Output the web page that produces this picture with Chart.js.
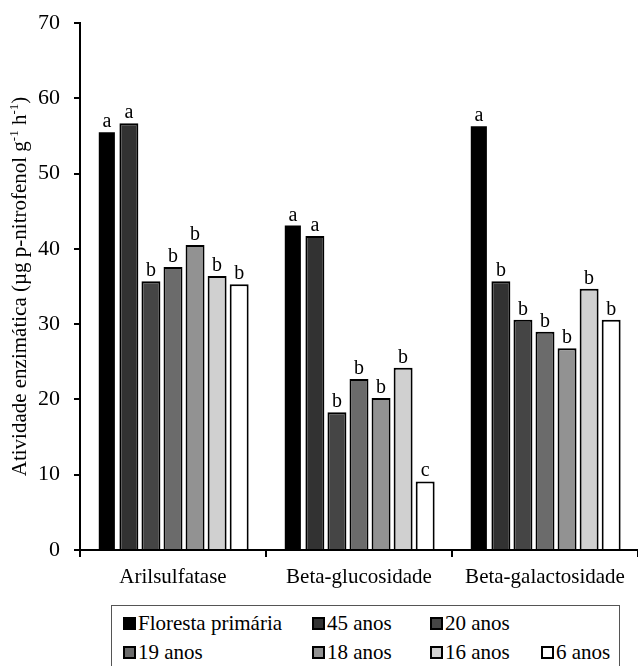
<!DOCTYPE html>
<html>
<head>
<meta charset="utf-8">
<script src="https://cdn.jsdelivr.net/npm/chart.js@4"></script>
<style>
  body { margin: 0; background: #fff; }
  #wrap { position: relative; width: 638px; height: 666px; overflow: hidden; }
  #legend {
    position: absolute; left: 111px; top: 605px; width: 496px; height: 80px;
    border: 1px solid #555; padding: 3px 0 0 11px;
    display: grid; grid-template-columns: 189px 118px 111px auto; grid-auto-rows: 29px;
    font: 21px "Liberation Serif", "Times New Roman", serif; color: #000;
  }
  .item { display: flex; align-items: center; white-space: nowrap; }
  .sw { width: 9px; height: 9px; border: 2px solid #000; margin-right: 2px; }
</style>
</head>
<body>
<div id="wrap">
  <canvas id="chart" width="638" height="600"></canvas>
  <div id="legend"></div>
</div>
<script>
// Categories and series
const enzymes = ["Arilsulfatase", "Beta-glucosidade", "Beta-galactosidade"];
const areas = ["Floresta primária", "45 anos", "20 anos", "19 anos", "18 anos", "16 anos", "6 anos"];
const fills = ["#000000", "#323232", "#454545", "#6b6b6b", "#929292", "#d0d0d0", "#ffffff"];

const floresta = [55.5, 43.1, 56.3];
const anos45 = [56.7, 41.7, 35.7];
const anos20 = [35.7, 18.3, 30.6];
const anos19 = [37.6, 22.7, 29.0];
const anos18 = [40.5, 20.2, 26.8];
const anos16 = [36.4, 24.2, 34.7];
const anos6 = [35.3, 9.1, 30.6];

// letras de significancia
const letters = [
  ["a", "a", "a"],
  ["a", "a", "b"],
  ["b", "b", "b"],
  ["b", "b", "b"],
  ["b", "b", "b"],
  ["b", "b", "b"],
  ["b", "c", "b"]
];

const yTicks = [0, 10, 20, 30, 40, 50, 60, 70];

const seriesValues = [floresta, anos45, anos20, anos19, anos18, anos16, anos6];
const serif = '"Liberation Serif", "Times New Roman", serif';

const datasets = areas.map((name, i) => ({
  label: name,
  data: seriesValues[i],
  backgroundColor: fills[i],
  borderColor: "#000",
  borderWidth: i === 0 ? 0 : 2,
  borderSkipped: "bottom",
  barPercentage: i === 0 ? 0.73 : 0.86,
  categoryPercentage: 0.83
}));

// Letters above bars
const letterPlugin = {
  id: "letters",
  afterDatasetsDraw(chart) {
    const ctx = chart.ctx;
    ctx.save();
    ctx.fillStyle = "#000";
    ctx.font = "20px " + serif;
    ctx.textAlign = "center";
    ctx.textBaseline = "alphabetic";
    chart.data.datasets.forEach((ds, i) => {
      chart.getDatasetMeta(i).data.forEach((bar, j) => {
        ctx.fillText(letters[i][j], bar.x, bar.y - 5);
      });
    });
    ctx.restore();
  }
};

// Y title with superscripts
const yTitlePlugin = {
  id: "ytitle",
  afterDraw(chart) {
    const ctx = chart.ctx;
    const area = chart.chartArea;
    const parts = [
      ["Atividade enzimática (µg p-nitrofenol g", false],
      ["-1", true],
      [" h", false],
      ["-1", true],
      [")", false]
    ];
    const big = "21px " + serif, small = "13px " + serif;
    let total = 0;
    parts.forEach(p => { ctx.font = p[1] ? small : big; total += ctx.measureText(p[0]).width; });
    ctx.save();
    ctx.translate(26, (area.top + area.bottom) / 2);
    ctx.rotate(-Math.PI / 2);
    ctx.fillStyle = "#000";
    ctx.textBaseline = "alphabetic";
    let x = -total / 2;
    parts.forEach(p => {
      ctx.font = p[1] ? small : big;
      ctx.fillText(p[0], x, p[1] ? -8 : 0);
      x += ctx.measureText(p[0]).width;
    });
    ctx.restore();
  }
};

new Chart(document.getElementById("chart"), {
  type: "bar",
  data: { labels: enzymes, datasets },
  options: {
    responsive: false,
    animation: false,
    devicePixelRatio: 1,
    layout: { padding: { top: 23, right: 0, left: 0, bottom: 0 } },
    plugins: { legend: { display: false }, tooltip: { enabled: false } },
    scales: {
      x: {
        grid: { offset: true, drawOnChartArea: false, tickLength: 7, color: "#000", lineWidth: 2 },
        border: { color: "#000", width: 2 },
        ticks: { color: "#000", padding: 8, font: { family: serif, size: 21 } },
        afterFit(scale) { scale.height = 50; }
      },
      y: {
        min: 0,
        max: 70,
        afterBuildTicks(scale) { scale.ticks = yTicks.map(v => ({ value: v })); },
        grid: { drawOnChartArea: false, tickLength: 6, color: "#000", lineWidth: 2 },
        border: { color: "#000", width: 2 },
        ticks: { color: "#000", padding: 14, font: { family: serif, size: 22, lineHeight: 0.9 } },
        afterFit(scale) { scale.width = 80; scale.paddingTop = 0; }
      }
    }
  },
  plugins: [letterPlugin, yTitlePlugin]
});

// HTML legend: first three in the top row, rest below
const legend = document.getElementById("legend");
areas.forEach((name, i) => {
  const item = document.createElement("div");
  item.className = "item";
  item.innerHTML = `<span class="sw" style="background:${fills[i]}"></span>${name}`;
  if (i < 3) { item.style.gridRow = 1; item.style.gridColumn = i + 1; }
  else { item.style.gridRow = 2; item.style.gridColumn = i - 2; }
  legend.appendChild(item);
});
</script>
</body>
</html>
